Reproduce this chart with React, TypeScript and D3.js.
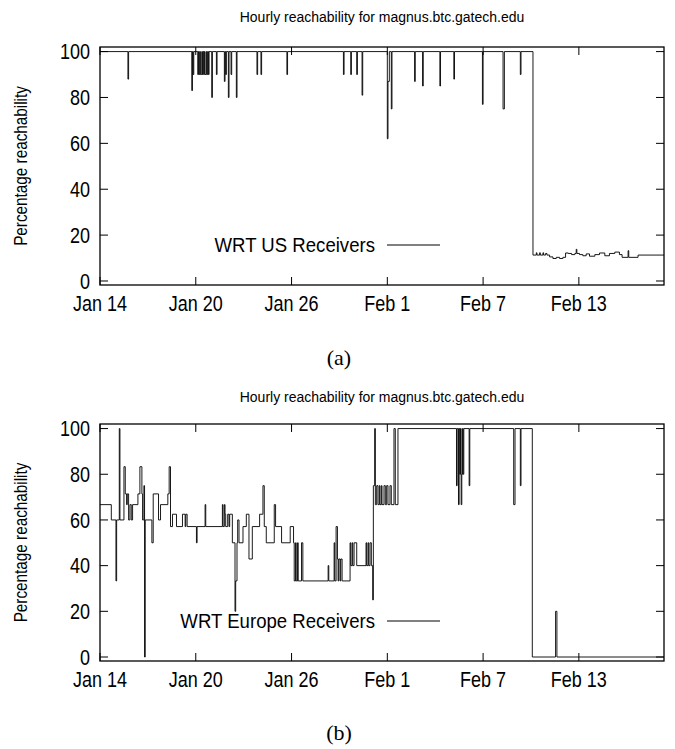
import React from "react";
import * as d3 from "d3";

const TITLE = "Hourly reachability for magnus.btc.gatech.edu";
const Y_LABEL = "Percentage reachability";
const X_TICK_DAYS = [0, 6, 12, 18, 24, 30];
const X_TICK_LABELS = ["Jan 14", "Jan 20", "Jan 26", "Feb 1", "Feb 7", "Feb 13"];
const Y_TICKS = [0, 20, 40, 60, 80, 100];
const START = Date.UTC(2005, 0, 14);
const END_HOUR = 848;

// hours since Jan 14 00:00; each value holds until the next entry
const usHours = [
  0, 42, 43, 138, 139, 140, 141, 147, 148, 149, 150, 151, 153, 154, 155, 156, 157, 158, 160, 161, 162, 163, 164,
  168, 169, 175, 176, 187, 188, 189, 190, 193, 194, 197, 198, 205, 206, 236, 237, 242, 243, 281, 282,
  366, 367, 377, 378, 386, 387, 394, 395, 432, 433, 435, 438, 439, 473, 474, 485, 486, 511, 512, 532, 533,
  575, 576, 606, 608, 632, 633, 651, 656, 657, 661, 662, 666, 667, 670, 672, 676, 681, 686, 691, 696, 700,
  704, 709, 714, 716, 717, 721, 726, 731, 736, 744, 751, 759, 766, 774, 781, 785, 794, 795, 809, 848,
];
const usValues = [
  100, 88, 100, 83, 100, 90, 100, 90, 100, 90, 100, 90, 100, 90, 100, 90, 100, 90, 100, 90, 100, 90, 100,
  80, 100, 90, 100, 87, 100, 90, 100, 80, 100, 90, 100, 80, 100, 90, 100, 90, 100, 90, 100,
  90, 100, 90, 100, 90, 100, 81, 100, 62, 87, 100, 75, 100, 87, 100, 85, 100, 85, 100, 88, 100,
  77, 100, 75, 100, 90, 100, 11.3, 12.3, 11.3, 12.3, 11.3, 12.3, 11.3, 12, 11.3, 10.5, 9.8, 10.3, 9.8, 10.3, 12.2,
  12, 11.5, 12, 13.8, 12, 11.5, 11, 11.8, 10.8, 11.5, 12.2, 11, 12, 12.6, 11.5, 10.3, 13.2, 10.3, 11.3, 11.3,
];

const euHours = [
  0, 17, 24, 25, 29, 30, 36, 38, 40, 41, 43, 45, 47, 49, 57, 60, 63, 64, 66, 67, 68, 78, 80, 88, 91,
  102, 104, 106, 109, 115, 124, 128, 129, 131, 145, 146, 158, 159, 184, 185, 187, 188, 189, 192, 194, 195,
  199, 203, 204, 206, 207, 209, 215, 220, 224, 229, 240, 245, 247, 250, 262, 264, 273, 286, 291, 292, 294,
  295, 297, 298, 303, 305, 343, 344, 352, 353, 355, 357, 358, 359, 361, 362, 364, 376, 377, 379, 380, 382,
  386, 400, 401, 403, 404, 406, 408, 410, 411, 413, 414, 416, 418, 420, 421, 423, 424, 427, 429, 431, 433,
  436, 438, 442, 444, 448, 536, 537, 539, 540, 541, 542, 543, 544, 545, 546, 547, 555, 556, 622, 624, 632,
  633, 650, 685, 687, 848,
];
const euValues = [
  66.7, 60, 33.3, 60, 100, 60, 83.3, 71.4, 66.7, 71.4, 60, 66.7, 60, 66.7, 71.4, 83.3, 71.4, 60, 75, 0, 60, 50, 71.4, 60, 66.7,
  71.4, 83.3, 57.1, 62.5, 57.1, 62.5, 57.1, 62.5, 57.1, 50, 57.1, 66.7, 57.1, 66.7, 57.1, 66.7, 62.5, 57.1, 62.5, 57.1, 62.5,
  50, 20, 33.3, 50, 60, 50, 57.1, 62.5, 42.9, 57.1, 62.5, 75, 57.1, 50, 66.7, 57.1, 50, 57.1, 50, 33.3, 50,
  33.3, 50, 33.3, 50, 33.3, 40, 33.3, 50, 33.3, 57.1, 42.9, 33.3, 42.9, 33.3, 42.9, 33.3, 50, 40, 50, 40, 50,
  40, 50, 40, 50, 40, 50, 40, 25, 75, 100, 66.7, 75, 66.7, 75, 66.7, 75, 66.7, 75, 66.7, 75, 66.7,
  75, 66.7, 100, 66.7, 100, 75, 100, 66.7, 100, 80, 100, 66.7, 80, 100, 80, 100, 75, 100, 66.7, 100, 75,
  100, 0, 20, 0, 0,
];

const FONT = "'Liberation Sans', Arial, Helvetica, sans-serif";
const LEFT = 100;
const RIGHT = 664;

const hourToDate = (h: number) => new Date(START + h * 3600 * 1000);

const x = d3
  .scaleUtc()
  .domain([hourToDate(0), hourToDate(END_HOUR)])
  .range([LEFT, RIGHT]);

// gnuplot's text in the figure is a bit taller than it is wide
function Label({ x, y, anchor, size, stretch, rotate = 0, dy = "0", children }) {
  return (
    <text
      transform={`translate(${x},${y}) rotate(${rotate}) scale(1,${stretch})`}
      dy={dy}
      textAnchor={anchor}
      fontSize={size}
      fontFamily={FONT}
    >
      {children}
    </text>
  );
}

function Panel({ top, bottom, titleY, hours, values, legend, caption, captionY }) {
  const y = d3.scaleLinear().domain([-1.75, 102]).range([bottom, top]);
  const pts = hours.map((h, i) => [h, values[i]] as [number, number]);
  const line = d3
    .line<[number, number]>()
    .x((d) => x(hourToDate(d[0])))
    .y((d) => y(d[1]))
    .curve(d3.curveStepAfter);
  const legendY = bottom - 40;

  return (
    <g>
      <Label x={(LEFT + RIGHT) / 2} y={titleY} anchor="middle" size={14} stretch={1.1}>
        {TITLE}
      </Label>
      <Label x={27} y={(top + bottom) / 2} anchor="middle" size={15.3} stretch={1.25} rotate={-90}>
        {Y_LABEL}
      </Label>

      {Y_TICKS.map((t) => (
        <g key={"y" + t}>
          <line x1={LEFT} x2={LEFT + 8} y1={y(t)} y2={y(t)} stroke="#000" />
          <line x1={RIGHT} x2={RIGHT - 8} y1={y(t)} y2={y(t)} stroke="#000" />
          <Label x={90} y={y(t)} anchor="end" size={18} stretch={1.2} dy="0.36em">
            {t}
          </Label>
        </g>
      ))}

      {X_TICK_DAYS.map((d, i) => {
        const xx = x(hourToDate(d * 24));
        return (
          <g key={"x" + d}>
            <line x1={xx} x2={xx} y1={bottom} y2={bottom - 8} stroke="#000" />
            <line x1={xx} x2={xx} y1={top} y2={top + 8} stroke="#000" />
            <Label x={xx} y={bottom + 26} anchor="middle" size={18} stretch={1.2}>
              {X_TICK_LABELS[i]}
            </Label>
          </g>
        );
      })}

      <path d={line(pts) || ""} fill="none" stroke="#000" strokeWidth={0.9} />

      <rect x={LEFT} y={top} width={RIGHT - LEFT} height={bottom - top} fill="none" stroke="#000" strokeWidth={1.3} />

      <Label x={375} y={legendY} anchor="end" size={18.6} stretch={1.1} dy="0.36em">
        {legend}
      </Label>
      <line x1={387} x2={440} y1={legendY} y2={legendY} stroke="#000" />

      <text x={339} y={captionY} textAnchor="middle" fontSize={22} fontFamily="'Liberation Serif', 'Times New Roman', serif">
        {caption}
      </text>
    </g>
  );
}

export default function App() {
  return (
    <svg
      width={675}
      height={749}
      style={{ position: "absolute", left: 0, top: 0, background: "#fff" }}
    >
      <Panel
        top={47}
        bottom={285}
        titleY={22}
        hours={usHours}
        values={usValues}
        legend="WRT US Receivers"
        caption="(a)"
        captionY={365}
      />
      <Panel
        top={424}
        bottom={661}
        titleY={402}
        hours={euHours}
        values={euValues}
        legend="WRT Europe Receivers"
        caption="(b)"
        captionY={740}
      />
    </svg>
  );
}
